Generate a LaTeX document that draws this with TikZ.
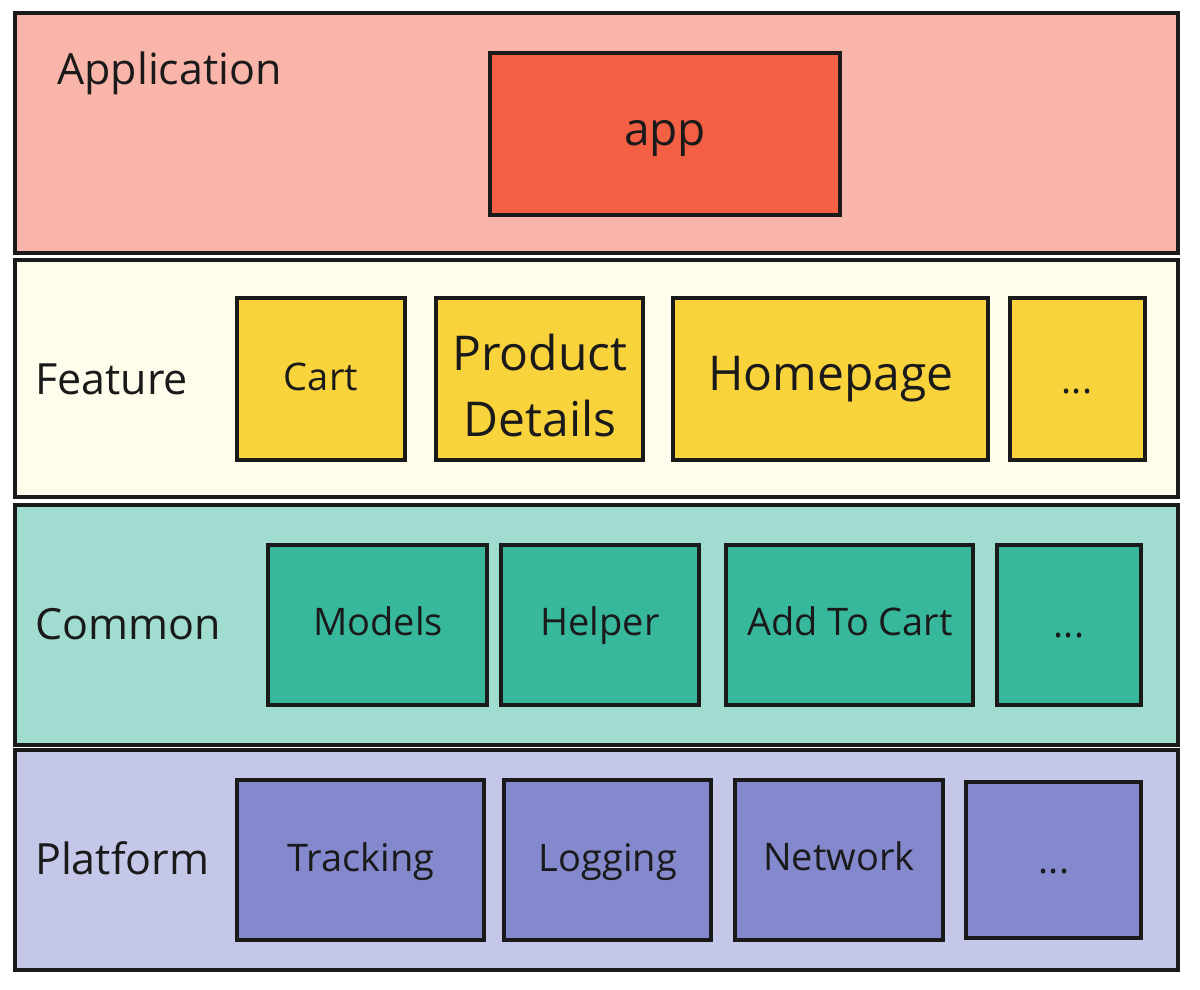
\documentclass[tikz,border=0pt]{standalone}
\usepackage{fontspec}
\setmainfont{Open Sans}
\definecolor{appbg}{HTML}{F9B5AA}\definecolor{appbox}{HTML}{F36043}
\definecolor{featbg}{HTML}{FEFCEB}\definecolor{featbox}{HTML}{F9D33C}
\definecolor{combg}{HTML}{A0DDD0}\definecolor{combox}{HTML}{37B79C}
\definecolor{platbg}{HTML}{C5C7E9}\definecolor{platbox}{HTML}{8489CE}
\definecolor{ink}{HTML}{1A1A1A}
\begin{document}
\begin{tikzpicture}[x=1pt,y=-1pt,
  layer/.style={draw=ink,line width=4pt},
  box/.style={draw=ink,line width=4pt},
  lbl/.style={anchor=west,inner sep=0pt,font=\fontsize{43}{44}\selectfont,text=ink,text height=0.72em,text depth=0.24em,yshift=-12pt},
  txt/.style={font=\fontsize{38}{44}\selectfont,text=ink,align=center,inner sep=0pt,text height=0.72em,text depth=0.24em,yshift=-11pt}]
\useasboundingbox (0,0) rectangle (1200,989);
\fill[white] (0,0) rectangle (1200,989);
% layers
\draw[layer,fill=appbg] (15,13) rectangle (1178,253);
\draw[layer,fill=featbg] (15,260) rectangle (1178,497);
\draw[layer,fill=combg] (15,505) rectangle (1178,745);
\draw[layer,fill=platbg] (15,750) rectangle (1178,970);
\node[lbl] (lapp) at (57,70) {Application};
\node[lbl] (lfeat) at (35,380) {Feature};
\node[lbl] (lcom) at (35,625) {Common};
\node[lbl] (lplat) at (35,860) {Platform};
% application
\draw[box,fill=appbox] (490,53) rectangle (840,215);
\node[txt,font=\fontsize{46}{50}\selectfont] (app) at (665,132) {app};
% feature
\draw[box,fill=featbox] (237,298) rectangle (405,460);
\node[txt] (cart) at (321,377) {Cart};
\draw[box,fill=featbox] (436,298) rectangle (643,460);
\node[txt,font=\fontsize{48}{66}\selectfont,text height=,text depth=,yshift=2pt] (pd) at (540,376) {Product\\Details};
\draw[box,fill=featbox] (673,298) rectangle (988,460);
\node[txt,font=\fontsize{48}{50}\selectfont] (home) at (831,377) {Homepage};
\draw[box,fill=featbox] (1010,298) rectangle (1145,460);
\node[txt] (fdots) at (1077,380) {...};
% common
\draw[box,fill=combox] (268,545) rectangle (487,705);
\node[txt] (models) at (378,622) {Models};
\draw[box,fill=combox] (501,545) rectangle (699,705);
\node[txt] (helper) at (600,622) {Helper};
\draw[box,fill=combox] (726,545) rectangle (973,705);
\node[txt] (atc) at (850,622) {Add To Cart};
\draw[box,fill=combox] (997,545) rectangle (1141,705);
\node[txt] (cdots) at (1069,624) {...};
% platform
\draw[box,fill=platbox] (237,780) rectangle (484,940);
\node[txt] (track) at (361,858) {Tracking};
\draw[box,fill=platbox] (504,780) rectangle (711,940);
\node[txt] (log) at (608,858) {Logging};
\draw[box,fill=platbox] (735,780) rectangle (943,940);
\node[txt] (net) at (839,857) {Network};
\draw[box,fill=platbox] (966,782) rectangle (1141,938);
\node[txt] (pdots) at (1054,860) {...};
\end{tikzpicture}
\end{document}
